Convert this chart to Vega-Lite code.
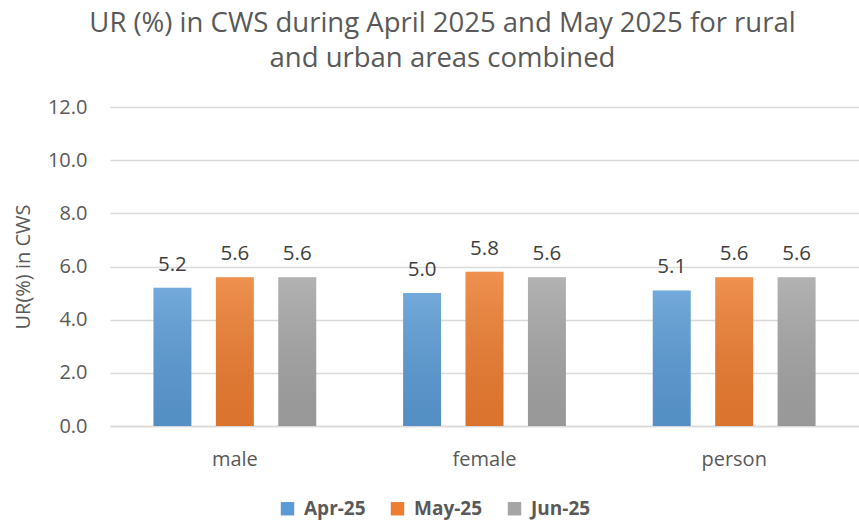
{
  "$schema": "https://vega.github.io/schema/vega-lite/v6.json",
  "autosize": {"type": "none"},
  "width": 749,
  "height": 319,
  "padding": {"left": 110, "top": 107, "right": 0, "bottom": 97},
  "background": "white",
  "config": {"view": {"stroke": null}, "font": "Open Sans"},
  "title": {
    "text": ["UR (%) in CWS during April 2025 and May 2025 for rural", "and urban areas combined"],
    "fontSize": 27.5,
    "fontWeight": "normal",
    "color": "#595959",
    "font": "Open Sans",
    "anchor": "middle",
    "dx": -42,
    "lineHeight": 35,
    "offset": 25
  },
  "data": {
    "values": [
      {"category": "male", "month": "Apr-25", "value": 5.2},
      {"category": "male", "month": "May-25", "value": 5.6},
      {"category": "male", "month": "Jun-25", "value": 5.6},
      {"category": "female", "month": "Apr-25", "value": 5.0},
      {"category": "female", "month": "May-25", "value": 5.8},
      {"category": "female", "month": "Jun-25", "value": 5.6},
      {"category": "person", "month": "Apr-25", "value": 5.1},
      {"category": "person", "month": "May-25", "value": 5.6},
      {"category": "person", "month": "Jun-25", "value": 5.6}
    ]
  },
  "encoding": {
    "x": {
      "field": "category",
      "type": "nominal",
      "sort": ["male", "female", "person"],
      "scale": {"paddingInner": 0, "paddingOuter": 0},
      "axis": {
        "title": null,
        "labelAngle": 0,
        "labelFontSize": 20,
        "labelColor": "#595959",
        "labelPadding": 23,
        "ticks": false,
        "domainColor": "#d9d9d9",
        "domainWidth": 1.5
      }
    },
    "xOffset": {
      "field": "month",
      "type": "nominal",
      "sort": ["Apr-25", "May-25", "Jun-25"],
      "scale": {"paddingInner": 0.392, "paddingOuter": 0.696}
    },
    "y": {
      "field": "value",
      "type": "quantitative",
      "scale": {"domain": [0, 12]},
      "axis": {
        "title": "UR(%) in CWS",
        "titleFontSize": 20,
        "titleFontWeight": "normal",
        "titleColor": "#595959",
        "titlePadding": 14,
        "values": [0, 2, 4, 6, 8, 10, 12],
        "format": ".1f",
        "labelFontSize": 20,
        "labelColor": "#595959",
        "labelPadding": 23,
        "ticks": false,
        "domain": false,
        "gridColor": "#d9d9d9",
        "gridWidth": 1.5
      }
    }
  },
  "layer": [
    {
      "mark": {"type": "bar"},
      "encoding": {
        "color": {
          "field": "month",
          "type": "nominal",
          "sort": ["Apr-25", "May-25", "Jun-25"],
          "scale": {"domain": ["Apr-25", "May-25", "Jun-25"], "range": ["#5b9bd5", "#ed7d31", "#a5a5a5"]},
          "legend": {
            "title": null,
            "orient": "none",
            "direction": "horizontal",
            "legendX": 168,
            "legendY": 392,
            "symbolType": "square",
            "symbolSize": 180,
            "symbolStrokeWidth": 0,
            "labelFontSize": 19,
            "labelFontWeight": "bold",
            "labelColor": "#595959",
            "columnPadding": 22,
            "labelOffset": 7
          }
        }
      }
    },
    {
      "mark": {
        "type": "bar",
        "fill": {
          "gradient": "linear",
          "x1": 0, "y1": 0, "x2": 0, "y2": 1,
          "stops": [
            {"offset": 0, "color": "rgba(255,255,255,0.15)"},
            {"offset": 1, "color": "rgba(0,0,0,0.08)"}
          ]
        }
      }
    },
    {
      "mark": {"type": "text", "baseline": "alphabetic", "dy": -17, "fontSize": 20.5, "color": "#404040"},
      "encoding": {
        "text": {"field": "value", "type": "quantitative", "format": ".1f"}
      }
    }
  ]
}
